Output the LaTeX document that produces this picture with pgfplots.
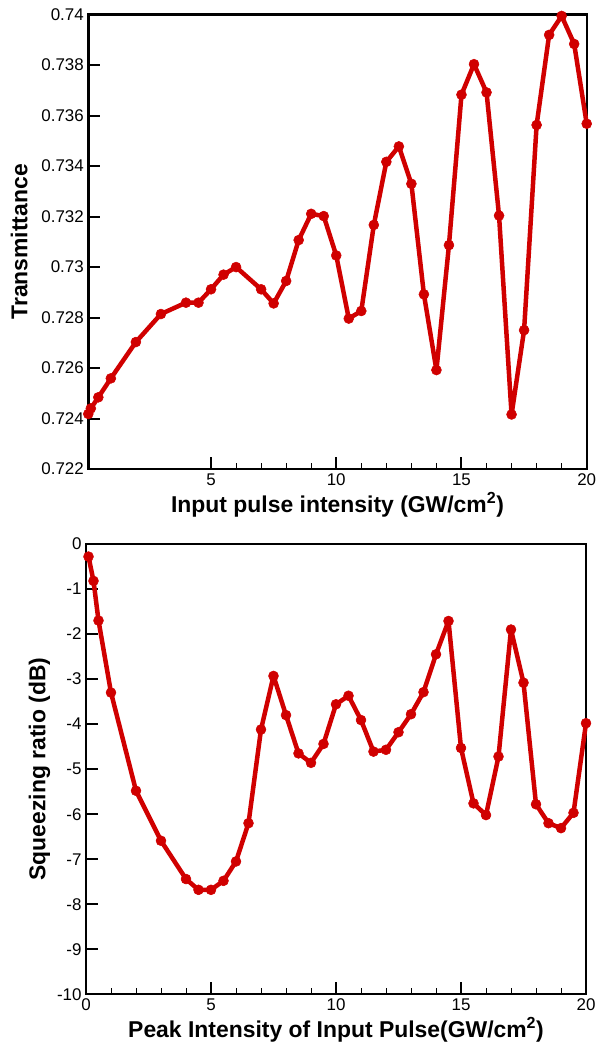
\documentclass[border=0pt]{standalone}
\usepackage{pgfplots}
\pgfplotsset{compat=1.18}
\usepackage{fontspec}
\setmainfont{Liberation Sans}
\definecolor{lred}{RGB}{208,0,0}
\pgfplotstableread{
x y
0.1 0.72418
0.2 0.7244
0.5 0.72484
1 0.72559
2 0.72703
3 0.72814
4 0.72859
4.5 0.72859
5 0.72912
5.5 0.7297
6 0.7300
7 0.72912
7.5 0.72856
8 0.72945
8.5 0.73107
9 0.73211
9.5 0.73202
10 0.73046
10.5 0.72796
11 0.72826
11.5 0.73167
12 0.73417
12.5 0.73478
13 0.7333
13.5 0.72892
14 0.72592
14.5 0.73087
15 0.73683
15.5 0.73804
16 0.73692
16.5 0.73204
17 0.72416
17.5 0.7275
18 0.73563
18.5 0.7392
19 0.73995
19.5 0.73884
20 0.73568
}\toptable
\pgfplotstableread{
x y
0.1 -0.28
0.3 -0.82
0.5 -1.70
1 -3.30
2 -5.48
3 -6.59
4 -7.44
4.5 -7.68
5 -7.68
5.5 -7.48
6 -7.05
6.5 -6.20
7 -4.12
7.5 -2.93
8 -3.80
8.5 -4.65
9 -4.86
9.5 -4.44
10 -3.56
10.5 -3.37
11 -3.91
11.5 -4.61
12 -4.57
12.5 -4.18
13 -3.78
13.5 -3.29
14 -2.45
14.5 -1.71
15 -4.53
15.5 -5.76
16 -6.02
16.5 -4.72
17 -1.90
17.5 -3.08
18 -5.78
18.5 -6.20
19 -6.31
19.5 -5.97
20 -3.98
}\bottable
\pgfplotsset{
  common/.style={
    scale only axis,
    clip=false,
    axis line style={line width=2.4bp},
    tick align=inside,
    tick pos=left,
    major tick length=12bp,
    minor tick length=6bp,
    every major tick/.append style={line width=2bp, draw=black},
    every minor tick/.append style={line width=1bp, draw=black},
    minor x tick num=4,
    tick label style={font=\fontsize{17}{17}\selectfont},
    label style={font=\fontsize{23}{23}\selectfont\bfseries},
    /pgf/number format/assume math mode=true,
    xticklabel style={yshift=-1bp},
    yticklabel style={xshift=-1bp},
  },
  series/.style={color=lred, line width=4.5bp, line join=round, mark=*, mark size=5bp, mark options={solid, fill=lred, draw=lred, line width=0.5bp}},
}
\begin{document}
\begin{tikzpicture}
\path (0,0) rectangle (596bp,1048bp);
\begin{axis}[common,
  at={(88.3bp,579bp)}, anchor=south west,
  width=498.4bp, height=454.3bp,
  xmin=0.1, xmax=20, ymin=0.722, ymax=0.74,
  xtick={5,10,15,20},
  ytick={0.722,0.724,...,0.7405},
  scaled y ticks=false,
  yticklabel style={/pgf/number format/fixed, /pgf/number format/precision=3},
  xlabel={Input pulse intensity (GW/cm\textsuperscript{2})},
  ylabel={Transmittance},
  ylabel style={at={(ticklabel cs:0.5,7bp)}},
]
\addplot[series] table[x=x,y=y] {\toptable};
\end{axis}
\begin{axis}[common,
  at={(86bp,53.7bp)}, anchor=south west,
  width=500bp, height=450.3bp,
  xmin=0, xmax=20, ymin=-10, ymax=0,
  xtick={0,5,10,15,20},
  ytick={-10,-9,...,0},
  xlabel={Peak Intensity of Input Pulse(GW/cm\textsuperscript{2})},
  ylabel={Squeezing ratio (dB)},
]
\addplot[series] table[x=x,y=y] {\bottable};
\end{axis}
\end{tikzpicture}
\end{document}
